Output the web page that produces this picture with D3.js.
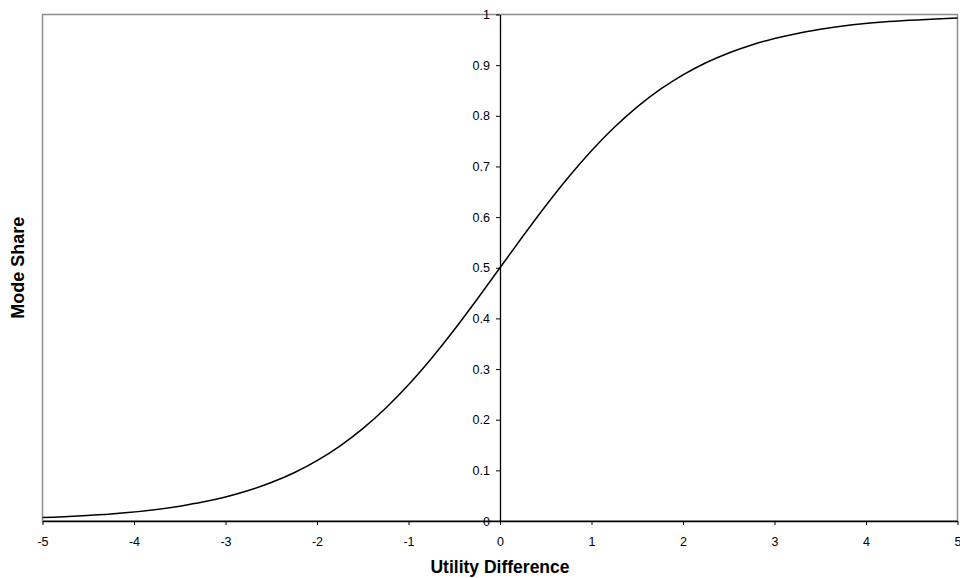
<!DOCTYPE html>
<html><head><meta charset="utf-8">
<script src="https://cdn.jsdelivr.net/npm/d3@7"></script>
<style>body{margin:0;background:#fff}svg{display:block;font-family:"Liberation Sans",Arial,sans-serif}</style>
</head><body>
<svg id="c" width="960" height="578"></svg>
<script>
const utilityDiff = [-5,-3.5,-3.25,-3,-2.75,-2.5,-2.25,-2,-1.75,-1.5,-1.25,-1,-0.75,-0.5,-0.25,0,0.25,0.5,0.75,1,1.25,1.5,1.75,2,2.25,2.5,2.75,3,3.25,3.5,5];
const modeShare = [0.0067,0.0293,0.0373,0.0474,0.0601,0.0759,0.0953,0.1192,0.1480,0.1824,0.2227,0.2689,0.3208,0.3775,0.4378,0.5,0.5622,0.6225,0.6792,0.7311,0.7773,0.8176,0.8520,0.8808,0.9047,0.9241,0.9399,0.9526,0.9627,0.9707,0.9933];
const xTicks = [-5,-4,-3,-2,-1,0,1,2,3,4,5];
const yTicks = [0,0.1,0.2,0.3,0.4,0.5,0.6,0.7,0.8,0.9,1];

const svg = d3.select("#c");
const L = 42.5, R = 957.5, T = 14.5, B = 521;
const x = d3.scaleLinear().domain([-5,5]).range([L,R]);
const y = d3.scaleLinear().domain([0,1]).range([B,T]);

// plot frame (gray)
svg.append("rect").attr("x",L).attr("y",T).attr("width",R-L).attr("height",B-T)
  .attr("fill","none").attr("stroke","#8c8c8c").attr("stroke-width",1.5);

// x axis at y=0
const xa = svg.append("g").attr("transform",`translate(0,${B})`)
  .call(d3.axisBottom(x).tickValues(xTicks).tickFormat(d => String(d)).tickSize(4).tickSizeOuter(0));
xa.select(".domain").attr("stroke","#000").attr("stroke-width",1.3);
xa.selectAll(".tick line").attr("stroke","#000");
xa.selectAll("text").attr("font-size",12.5).attr("fill","#000").attr("y",24.5).attr("dy",0);

// y axis at x=0
const ya = svg.append("g").attr("transform",`translate(${x(0)},0)`)
  .call(d3.axisLeft(y).tickValues(yTicks).tickFormat(d => String(+d.toFixed(1))).tickSize(4).tickSizeOuter(0));
ya.select(".domain").attr("stroke","#000").attr("stroke-width",1.3);
ya.selectAll(".tick line").attr("stroke","#000");
ya.selectAll("text").attr("font-size",12.5).attr("fill","#000").attr("x",-10);

// curve
const pts = utilityDiff.map((u,i)=>[u,modeShare[i]]);
svg.append("path").datum(pts)
  .attr("fill","none").attr("stroke","#000").attr("stroke-width",1.5)
  .attr("d", d3.line().x(d=>x(d[0])).y(d=>y(d[1])).curve(d3.curveMonotoneX));

// axis titles
svg.append("text").attr("x",x(0)).attr("y",573).attr("text-anchor","middle")
  .attr("font-size",17.5).attr("font-weight","bold").text("Utility Difference");
svg.append("text").attr("transform",`translate(24,${(T+B)/2}) rotate(-90)`).attr("text-anchor","middle")
  .attr("font-size",18).attr("font-weight","bold").text("Mode Share");
</script>
</body></html>
